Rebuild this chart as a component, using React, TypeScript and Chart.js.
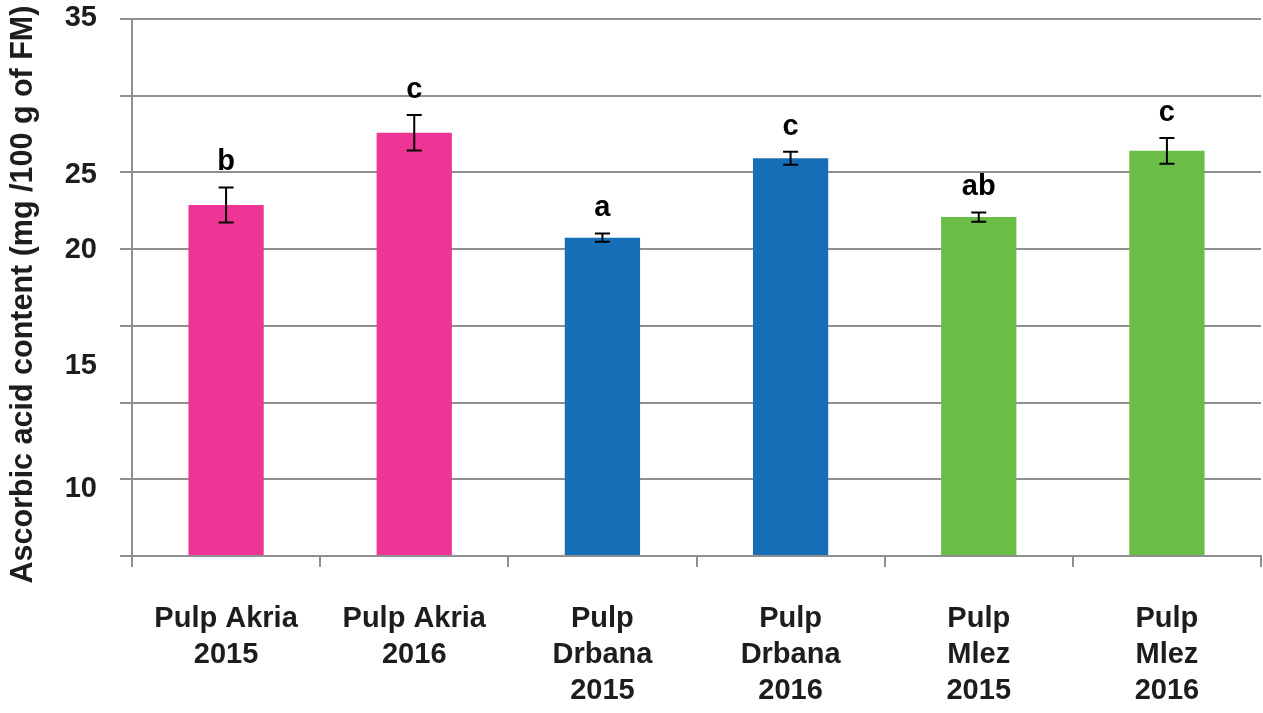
import React, { useEffect, useRef } from "react";
import { Chart, registerables } from "chart.js";

Chart.register(...registerables);

const categories: string[][] = [
  ["Pulp Akria", "2015"],
  ["Pulp Akria", "2016"],
  ["Pulp", "Drbana", "2015"],
  ["Pulp", "Drbana", "2016"],
  ["Pulp", "Mlez", "2015"],
  ["Pulp", "Mlez", "2016"],
];
const values: number[] = [22.88, 27.59, 20.75, 25.92, 22.09, 26.41];
const errors: number[] = [1.14, 1.16, 0.27, 0.42, 0.3, 0.84];
const letters: string[] = ["b", "c", "a", "c", "ab", "c"];
const barColors: string[] = ["#EE3495", "#EE3495", "#166EB6", "#166EB6", "#6ABD46", "#6ABD46"];
const yTickTexts: string[] = ["35", "25", "20", "15", "10"];
const yTickAt: number[] = [35.1, 24.9, 20.0, 12.45, 4.4];
const yTitle = "Ascorbic acid content (mg /100 g of FM)";

const FONT = "'Liberation Sans', Arial, Helvetica, sans-serif";
const GRID = "#8f8f8f";
const TEXT = "#1e1c1d";

const overlayPlugin = {
  id: "overlay",
  afterDatasetsDraw(chart: any) {
    const ctx = chart.ctx;
    const y = chart.scales.y;
    const meta = chart.getDatasetMeta(0);
    ctx.save();
    // error bars
    ctx.strokeStyle = "#000";
    ctx.lineWidth = 2;
    meta.data.forEach((bar: any, i: number) => {
      const x = bar.x;
      const top = y.getPixelForValue(values[i] + errors[i]);
      const bot = y.getPixelForValue(values[i] - errors[i]);
      ctx.beginPath();
      ctx.moveTo(x, top);
      ctx.lineTo(x, bot);
      ctx.moveTo(x - 7.5, top);
      ctx.lineTo(x + 7.5, top);
      ctx.moveTo(x - 7.5, bot);
      ctx.lineTo(x + 7.5, bot);
      ctx.stroke();
      // letters
      ctx.fillStyle = "#000";
      ctx.font = `bold 29px ${FONT}`;
      ctx.textAlign = "center";
      ctx.textBaseline = "alphabetic";
      ctx.fillText(letters[i], x, top - 17);
    });
    // y tick labels
    ctx.fillStyle = TEXT;
    ctx.font = `bold 29px ${FONT}`;
    ctx.textAlign = "right";
    ctx.textBaseline = "middle";
    yTickTexts.forEach((t, i) => {
      ctx.fillText(t, 97, y.getPixelForValue(yTickAt[i]) + 1);
    });
    // y title
    ctx.translate(24, (chart.chartArea.top + chart.chartArea.bottom) / 2 + 7);
    ctx.rotate(-Math.PI / 2);
    ctx.textAlign = "center";
    ctx.textBaseline = "middle";
    ctx.font = `bold 30.5px ${FONT}`;
    ctx.fillText(yTitle, 0, 0);
    ctx.restore();
  },
};

export default function App() {
  const ref = useRef<HTMLCanvasElement | null>(null);
  useEffect(() => {
    document.body.style.margin = "0";
    const chart = new Chart(ref.current as HTMLCanvasElement, {
      type: "bar",
      data: {
        labels: categories,
        datasets: [
          {
            data: values,
            backgroundColor: barColors,
            borderWidth: 0,
            barPercentage: 0.4,
            categoryPercentage: 1,
          },
        ],
      },
      options: {
        animation: false,
        responsive: false,
        layout: { padding: { left: 120, right: 2, top: 19, bottom: 4 } },
        plugins: { legend: { display: false }, tooltip: { enabled: false } },
        scales: {
          x: {
            grid: { display: true, drawOnChartArea: false, color: GRID, lineWidth: 2, tickLength: 11, offset: true },
            border: { display: true, color: GRID, width: 2 },
            ticks: {
              color: TEXT,
              padding: 34,
              maxRotation: 0,
              autoSkip: false,
              font: { family: FONT, size: 29, weight: "bold", lineHeight: 1.24 },
            },
            afterFit: (scale: any) => {
              scale.height = 153;
            },
          },
          y: {
            min: 0,
            max: 35,
            grid: { color: GRID, lineWidth: 2, tickLength: 12, drawTicks: true },
            border: { display: true, color: GRID, width: 2 },
            ticks: { stepSize: 5, display: false },
          },
        },
      },
      plugins: [overlayPlugin],
    });
    return () => chart.destroy();
  }, []);
  return (
    <div style={{ position: "absolute", left: 0, top: 0, width: 1263, height: 713, background: "#fff" }}>
      <canvas ref={ref} width={1263} height={713} style={{ display: "block" }} />
    </div>
  );
}
